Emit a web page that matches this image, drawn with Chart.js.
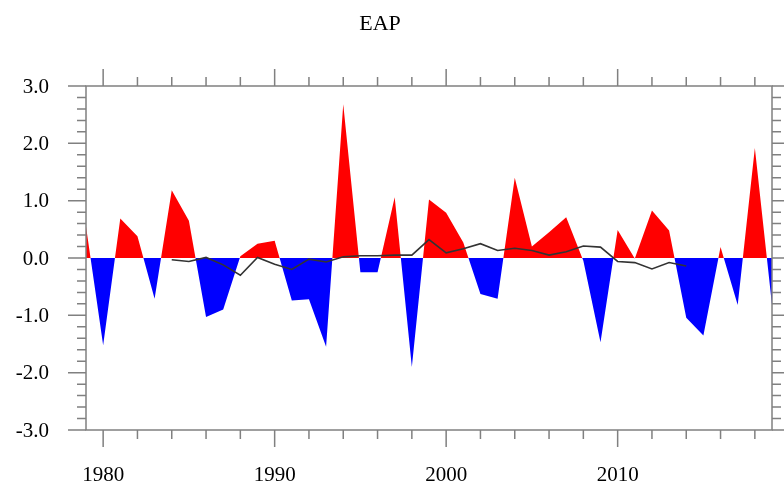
<!DOCTYPE html>
<html>
<head>
<meta charset="utf-8">
<script src="https://cdn.jsdelivr.net/npm/chart.js@4/dist/chart.umd.min.js"></script>
<style>
  body { margin: 0; background: #fff; }
  canvas { display: block; }
</style>
</head>
<body>
<canvas id="eap" width="784" height="482"></canvas>
<script>
const years = [1979, 1980, 1981, 1982, 1983, 1984, 1985, 1986, 1987, 1988,
               1989, 1990, 1991, 1992, 1993, 1994, 1995, 1996, 1997, 1998,
               1999, 2000, 2001, 2002, 2003, 2004, 2005, 2006, 2007, 2008,
               2009, 2010, 2011, 2012, 2013, 2014, 2015, 2016, 2017, 2018, 2019];
const eapIndex = [0.55, -1.52, 0.69, 0.38, -0.71, 1.18, 0.65, -1.03, -0.90, 0.03,
                  0.25, 0.30, -0.74, -0.72, -1.55, 2.68, -0.25, -0.25, 1.06, -1.90,
                  1.02, 0.79, 0.27, -0.63, -0.71, 1.40, 0.20, 0.45, 0.71, -0.05,
                  -1.47, 0.49, -0.01, 0.83, 0.48, -1.04, -1.35, 0.19, -0.82, 1.92, -0.82];
const meanYears = [1984, 1985, 1986, 1987, 1988, 1989, 1990, 1991, 1992, 1993,
                   1994, 1995, 1996, 1997, 1998, 1999, 2000, 2001, 2002, 2003,
                   2004, 2005, 2006, 2007, 2008, 2009, 2010, 2011, 2012, 2013, 2014];
const runningMean = [-0.03, -0.06, 0.01, -0.12, -0.30, 0.01, -0.11, -0.20, -0.02, -0.07,
                     0.02, 0.04, 0.04, 0.05, 0.05, 0.32, 0.09, 0.16, 0.25, 0.13,
                     0.17, 0.13, 0.05, 0.11, 0.21, 0.19, -0.06, -0.08, -0.19, -0.08, -0.14];
const xMajor = [1980, 1990, 2000, 2010];
const xMinor = [1980, 1982, 1984, 1986, 1988, 1990, 1992, 1994, 1996, 1998,
                2000, 2002, 2004, 2006, 2008, 2010, 2012, 2014, 2016, 2018];
const yMajor = [3.0, 2.0, 1.0, 0.0, -1.0, -2.0, -3.0];
const yMinor = [-2.8, -2.6, -2.4, -2.2, -1.8, -1.6, -1.4, -1.2, -0.8, -0.6, -0.4, -0.2,
                0.2, 0.4, 0.6, 0.8, 1.2, 1.4, 1.6, 1.8, 2.2, 2.4, 2.6, 2.8];

const axisColor = '#808080';

// frame, outward ticks, labels and title drawn from the hidden scales
const frameAxes = {
  id: 'frameAxes',
  afterDraw(chart) {
    const ctx = chart.ctx;
    const a = chart.chartArea;
    const xs = chart.scales.x, ys = chart.scales.y;
    ctx.save();
    ctx.strokeStyle = axisColor;
    ctx.lineWidth = 1.5;
    ctx.strokeRect(a.left, a.top, a.right - a.left, a.bottom - a.top);

    ctx.beginPath();
    xMinor.forEach(v => {
      const px = xs.getPixelForValue(v);
      const len = xMajor.includes(v) ? 17 : 9;
      ctx.moveTo(px, a.top); ctx.lineTo(px, a.top - len);
      ctx.moveTo(px, a.bottom); ctx.lineTo(px, a.bottom + len);
    });
    yMajor.concat(yMinor).forEach(v => {
      const py = ys.getPixelForValue(v);
      const len = yMajor.includes(v) ? 18 : 9;
      ctx.moveTo(a.left, py); ctx.lineTo(a.left - len, py);
      ctx.moveTo(a.right, py); ctx.lineTo(a.right + len, py);
    });
    ctx.stroke();

    ctx.fillStyle = '#000';
    ctx.font = '21px "Liberation Serif", "DejaVu Serif", serif';
    ctx.textAlign = 'right';
    ctx.textBaseline = 'middle';
    yMajor.forEach(v => {
      ctx.fillText(v.toFixed(1), 49, ys.getPixelForValue(v) + 1);
    });
    ctx.textAlign = 'center';
    ctx.textBaseline = 'alphabetic';
    xMajor.forEach(v => {
      ctx.fillText(String(v), xs.getPixelForValue(v), 481);
    });

    ctx.font = '22px "Liberation Serif", "DejaVu Serif", serif';
    ctx.fillText('EAP', 380, 30);
    ctx.restore();
  }
};

new Chart(document.getElementById('eap'), {
  type: 'line',
  data: {
    datasets: [
      {
        data: meanYears.map((y, i) => ({x: y, y: runningMean[i]})),
        borderColor: '#333333',
        borderWidth: 1.6,
        pointRadius: 0,
        fill: false,
        tension: 0,
        order: 0
      },
      {
        data: years.map((y, i) => ({x: y, y: eapIndex[i]})),
        borderColor: 'rgba(0,0,0,0)',
        borderWidth: 0,
        pointRadius: 0,
        tension: 0,
        fill: {target: 'origin', above: '#ff0000', below: '#0000ff'},
        order: 1
      }
    ]
  },
  options: {
    responsive: false,
    animation: false,
    layout: {padding: {left: 86, right: 12, top: 86, bottom: 52}},
    scales: {
      x: {type: 'linear', min: 1979, max: 2019, display: false},
      y: {type: 'linear', min: -3, max: 3, display: false}
    },
    plugins: {legend: {display: false}, tooltip: {enabled: false}, title: {display: false}}
  },
  plugins: [frameAxes]
});
</script>
</body>
</html>
